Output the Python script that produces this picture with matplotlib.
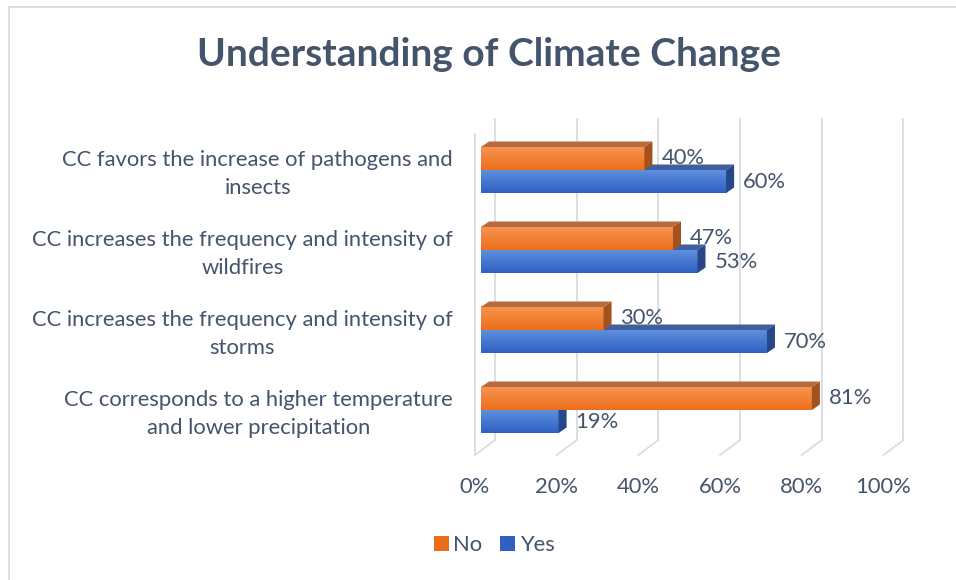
import numpy as np
import matplotlib.pyplot as plt
from matplotlib.patches import Polygon, Patch, Rectangle
from matplotlib.colors import LinearSegmentedColormap

plt.rcParams["font.family"] = ["Lato", "DejaVu Sans"]

TITLE = "Understanding of Climate Change"
CATEGORIES = [
    "CC corresponds to a higher temperature\nand lower precipitation",
    "CC increases the frequency and intensity of\nstorms",
    "CC increases the frequency and intensity of\nwildfires",
    "CC favors the increase of pathogens and\ninsects",
]
NO_VALUES = [81, 30, 47, 40]
YES_VALUES = [19, 70, 53, 60]
TICKS = [0, 20, 40, 60, 80, 100]
TICK_LABELS = ["0%", "20%", "40%", "60%", "80%", "100%"]

TEXT_COLOR = "#44546A"
GRID_COLOR = "#D9DDE3"
FS = 15.8

# pseudo 3D geometry (data units: x = percent, y = category index)
PX_X = 4.085
PX_Y = 80.0
DEPTH_X = 20 / PX_X
DEPTH_Y = 15 / PX_Y
BAR_X0 = 6 / PX_X
BAR_H = 23 / PX_Y
TOP_DX = 8 / PX_X
TOP_DY = 5.5 / PX_Y
FLOOR_Y = -45 / PX_Y
WALL_TOP = 291 / PX_Y

ORANGE = dict(light="#F7944F", dark="#EC6E1C", top="#B96B40", side="#A3521D")
BLUE = dict(light="#5E8EDD", dark="#2F61C2", top="#405F9C", side="#27478A")


def draw_bar(ax, y_lo, value, col, z):
    x0 = BAR_X0
    x1 = x0 + value
    y_hi = y_lo + BAR_H
    ax.barh(y_lo, value, left=x0, height=BAR_H, align="edge",
            color=col["dark"], linewidth=0, zorder=z)
    cmap = LinearSegmentedColormap.from_list("g", [col["light"], col["dark"]])
    grad = np.linspace(0, 1, 64).reshape(-1, 1)
    ax.imshow(grad, cmap=cmap, extent=[x0, x1, y_lo, y_hi], origin="upper",
              aspect="auto", zorder=z, interpolation="bilinear")
    top = [(x0, y_hi), (x0 + TOP_DX, y_hi + TOP_DY), (x1 + TOP_DX, y_hi + TOP_DY), (x1, y_hi)]
    side = [(x1, y_lo), (x1, y_hi), (x1 + TOP_DX, y_hi + TOP_DY), (x1 + TOP_DX, y_lo + TOP_DY)]
    ax.add_patch(Polygon(top, closed=True, color=col["top"], linewidth=0, zorder=z))
    ax.add_patch(Polygon(side, closed=True, color=col["side"], linewidth=0, zorder=z))
    ax.text(x1 + TOP_DX + 2.2, y_lo + BAR_H / 2, f"{value}%", ha="left", va="center",
            fontsize=FS, color=TEXT_COLOR, zorder=10)


fig = plt.figure(figsize=(9.56, 5.8), dpi=100)
ax = fig.add_axes([0, 0, 1, 1])
ax.axis("off")

# chart border
fig.patches.append(Rectangle((9 / 956, -0.1), 1.2, 1 - 7 / 580 + 0.1, transform=fig.transFigure,
                             fill=False, edgecolor=GRID_COLOR, linewidth=1.3))

# back wall gridlines and floor lines
for t in TICKS:
    ax.plot([t + DEPTH_X, t + DEPTH_X], [FLOOR_Y + DEPTH_Y, WALL_TOP], color=GRID_COLOR, lw=1.3, zorder=1)
    ax.plot([t, t + DEPTH_X], [FLOOR_Y, FLOOR_Y + DEPTH_Y], color=GRID_COLOR, lw=1.3, zorder=1)
ax.plot([0, 0], [FLOOR_Y, WALL_TOP - DEPTH_Y], color=GRID_COLOR, lw=1.3, zorder=1)

for i in range(len(CATEGORIES)):
    draw_bar(ax, i - BAR_H, YES_VALUES[i], BLUE, 3)
    draw_bar(ax, i, NO_VALUES[i], ORANGE, 4)
    ax.text(-5.4, i - 0.05, CATEGORIES[i], ha="right", va="center", multialignment="center",
            fontsize=FS, color=TEXT_COLOR, linespacing=1.55)

for t, lab in zip(TICKS, TICK_LABELS):
    ax.text(t, -77 / PX_Y, lab, ha="center", va="center", fontsize=FS, color=TEXT_COLOR)

ax.set_xlim(-475 / PX_X, (956 - 475) / PX_X)
ax.set_ylim((410 - 580) / PX_Y, 410 / PX_Y)

fig.text(489 / 956, 1 - 55 / 580, TITLE, ha="center", va="center", fontsize=28,
         fontweight="bold", color=TEXT_COLOR)

handles = [Patch(facecolor=ORANGE["dark"], label="No"), Patch(facecolor=BLUE["dark"], label="Yes")]
fig.legend(handles=handles, loc="center", bbox_to_anchor=(494 / 956, 1 - 545 / 580), ncol=2,
           frameon=False, fontsize=FS, handlelength=0.7, handleheight=0.7,
           handletextpad=0.2, columnspacing=0.8, labelcolor=TEXT_COLOR)

fig.savefig("out.png", dpi=100)
